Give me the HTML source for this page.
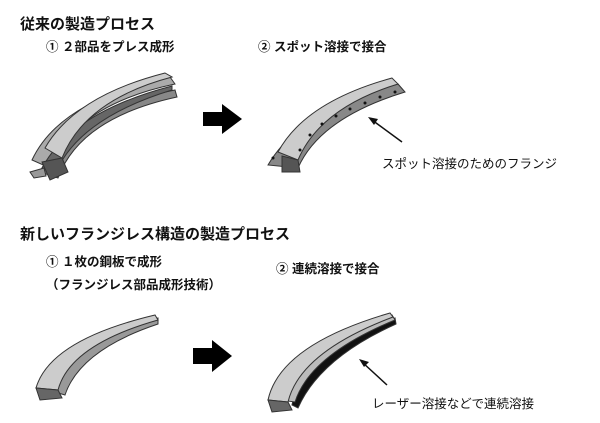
<!DOCTYPE html>
<html><head><meta charset="utf-8"><style>
body{margin:0;background:#fff;}
svg{display:block}
text{font-family:"Liberation Sans","Noto Sans CJK JP",sans-serif;fill:#111}
</style></head><body>
<svg width="600" height="423" viewBox="0 0 600 423" xmlns="http://www.w3.org/2000/svg">
<text x="20" y="29" font-size="15" font-weight="bold">従来の製造プロセス</text>
<text x="46" y="51" font-size="12.5" font-weight="bold">① ２部品をプレス成形</text>
<text x="258" y="51" font-size="12.5" font-weight="bold">② スポット溶接で接合</text>

<!-- top-left two parts -->
<g stroke="#333" stroke-width="1">
<path d="M40,172 Q70,110 175,90 L177,97 Q80,118 58,178 Z" fill="#888"/>
<path d="M32,160 Q60,100 170,77 L175,84 Q75,105 50,168 Z" fill="#aaa"/>
<path d="M42,168 Q72,112 172,86 L172,90 Q80,118 56,172 Z" fill="#666"/>
<path d="M45,148 Q75,96 165,73 L172,77 Q85,100 62,158 Z" fill="#ccc"/>
<path d="M42,162 L62,158 L68,172 L50,180 Z" fill="#555"/>
<path d="M30,172 L44,168 L46,176 L34,178 Z" fill="#999"/>
</g>
<polygon points="203,112 222,112 222,104 242,119 222,134 222,126 203,126" fill="#000"/>

<!-- top-right part -->
<g stroke="#333" stroke-width="1">
<path d="M268,165 Q300,110 398,84 L405,92 Q320,118 298,168 Z" fill="#888"/>
<path d="M278,152 Q305,102 392,78 L398,84 Q320,108 298,160 Z" fill="#ccc"/>
<path d="M282,156 L298,160 L300,172 L282,172 Z" fill="#555"/>
</g>
<g fill="#111">
<circle cx="300" cy="150" r="1.5"/><circle cx="310" cy="135" r="1.5"/><circle cx="322" cy="124" r="1.5"/><circle cx="336" cy="116" r="1.5"/><circle cx="350" cy="109" r="1.5"/><circle cx="365" cy="103" r="1.5"/><circle cx="380" cy="97" r="1.5"/><circle cx="395" cy="92" r="1.5"/><circle cx="273" cy="158" r="1.5"/>
</g>
<line x1="402" y1="142" x2="372" y2="120" stroke="#111" stroke-width="1.5"/>
<polygon points="368,117 378,119 374,125" fill="#111"/>
<text x="382" y="168" font-size="12.5">スポット溶接のためのフランジ</text>

<text x="20" y="239" font-size="15" font-weight="bold">新しいフランジレス構造の製造プロセス</text>
<text x="46" y="266" font-size="12.5" font-weight="bold">① １枚の鋼板で成形</text>
<text x="46" y="289" font-size="12.5" font-weight="bold">（フランジレス部品成形技術）</text>
<text x="276" y="273" font-size="12.5" font-weight="bold">② 連続溶接で接合</text>

<!-- bottom-left part -->
<g stroke="#333" stroke-width="1">
<path d="M48,390 Q60,345 158,318 L158,324 Q80,350 65,395 Z" fill="#999"/>
<path d="M36,388 Q50,340 155,315 L158,320 Q70,345 58,390 Z" fill="#ccc"/>
<path d="M36,388 L58,390 L62,398 L40,400 Z" fill="#666"/>
</g>
<polygon points="193,348 212,348 212,340 232,356 212,372 212,364 193,364" fill="#000"/>

<!-- bottom-right part -->
<g stroke="#333" stroke-width="1">
<path d="M292,405 Q300,355 395,318 L396,324 Q320,358 298,408 Z" fill="#111"/>
<path d="M280,400 Q290,350 392,315 L395,320 Q310,355 295,402 Z" fill="#bbb"/>
<path d="M268,400 Q280,345 390,313 L393,317 Q300,352 288,402 Z" fill="#ccc"/>
<path d="M268,400 L288,402 L292,410 L272,412 Z" fill="#666"/>
</g>
<line x1="387" y1="385" x2="362" y2="362" stroke="#111" stroke-width="1.5"/>
<polygon points="359,359 369,362 364,367" fill="#111"/>
<text x="372" y="408" font-size="12.5">レーザー溶接などで連続溶接</text>
</svg>
</body></html>
